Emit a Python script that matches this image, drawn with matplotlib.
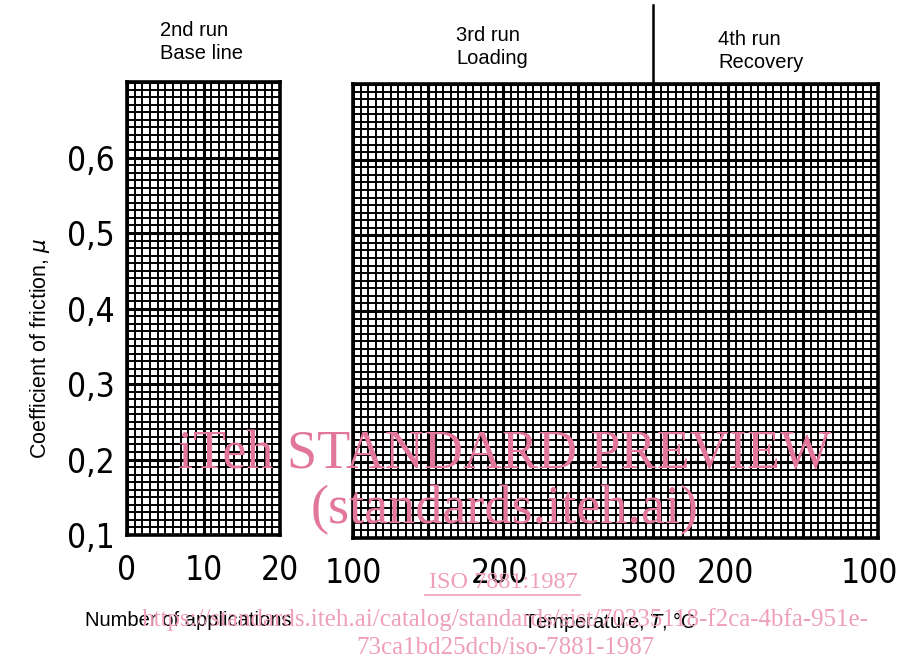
import matplotlib
matplotlib.use("Agg")
import matplotlib.pyplot as plt
from matplotlib import font_manager
import matplotlib.transforms as mtransforms
import numpy as np

# Chart values
mu_ticks = [0.1, 0.2, 0.3, 0.4, 0.5, 0.6]
mu_range = (0.1, 0.7)
app_ticks = [0, 10, 20]
app_range = (0, 20)
temp_divs = 70                      # grid divisions across the temperature panel
temp_tick_divs = [0, 20, 40, 50, 70]
temp_tick_labels = ["100", "200", "300", "200", "100"]
loading_end_div = 40                # loading / recovery boundary
run_titles = ["2nd run\nBase line", "3rd run\nLoading", "4th run\nRecovery"]

# pick a narrow face for the big tick numbers if one is installed
narrow = None
for f in font_manager.fontManager.ttflist:
    if ("Narrow" in f.name or "Condensed" in f.name or f.stretch in ("condensed", "semi-condensed")) \
            and f.style == "normal" and f.weight in (400, "normal", "regular"):
        narrow = f
        break
if narrow is not None:
    NUM = dict(family=[narrow.name, "DejaVu Sans"], stretch=narrow.stretch)
    NUM_SIZE = 24
else:
    NUM = dict(family=["Roboto", "DejaVu Sans"])
    NUM_SIZE = 21

SANS = ["Liberation Sans", "DejaVu Sans"]
SERIF = ["Liberation Serif", "DejaVu Serif"]
PINK = "#e2769b"
PINK_LIGHT = "#ef9fb8"

W, H = 899, 669
fig = plt.figure(figsize=(W / 100, H / 100), dpi=100)


def px_axes(x0, y0, x1, y1):
    return fig.add_axes([x0 / W, 1 - y1 / H, (x1 - x0) / W, (y1 - y0) / H])


def graph_paper(ax, xmin, xmax, xmajor, ymin, ymax):
    ax.set_xlim(xmin, xmax)
    ax.set_ylim(ymin, ymax)
    for x in np.arange(xmin, xmax + 1e-9, 1):
        major = abs((x - xmin) % xmajor) < 1e-9
        ax.axvline(x, color="black", lw=2.2 if major else 1.4, zorder=1)
    for i, y in enumerate(np.arange(ymin, ymax + 1e-9, 0.01)):
        ax.axhline(y, color="black", lw=2.2 if i % 10 == 0 else 1.4, zorder=1)
    for s in ax.spines.values():
        s.set_linewidth(2.6)
    ax.tick_params(length=0, pad=14)


# left panel: number of applications
ax1 = px_axes(127, 82, 280, 535)
graph_paper(ax1, app_range[0], app_range[1], 10, *mu_range)
ax1.set_xticks(app_ticks)
ax1.set_xticklabels([str(v) for v in app_ticks], fontsize=NUM_SIZE, **NUM)
ax1.set_yticks(mu_ticks)
ax1.set_yticklabels([f"{v:.1f}".replace(".", ",") for v in mu_ticks], fontsize=NUM_SIZE, **NUM)
ax1.tick_params(axis="y", pad=9)

# right panel: temperature
ax2 = px_axes(353, 84, 878, 538)
graph_paper(ax2, 0, temp_divs, 10, *mu_range)
ax2.set_xticks(temp_tick_divs)
ax2.set_xticklabels(temp_tick_labels, fontsize=NUM_SIZE, **NUM)
ax2.set_yticks([])
# numbers sit a little left of their grid line in the original
shifts = [0, -4, -5, -3, -9]
for lab, dx in zip(ax2.get_xticklabels(), shifts):
    lab.set_transform(lab.get_transform() +
                      mtransforms.ScaledTranslation(dx / 100, 0, fig.dpi_scale_trans))

# divider between loading and recovery
div_x = 353 + loading_end_div / temp_divs * 525
fig.add_artist(plt.Line2D([div_x / W, div_x / W], [1 - 5 / H, 1 - 86 / H],
                          color="black", lw=1.8))

# run titles
for (x, y), t in zip([(160, 42), (456, 47), (718, 51)], run_titles):
    fig.text(x / W, 1 - y / H, t, family=SANS, fontsize=14.5, ha="left", va="center",
             linespacing=1.3)

fig.text(40 / W, 1 - 348 / H, "Coefficient of friction, $\\mu$", rotation=90,
         family=SANS, fontsize=15.5, ha="center", va="center")
fig.text(85 / W, 1 - 620 / H, "Number of applications", family=SANS, fontsize=14.5,
         ha="left", va="center")
fig.text(523 / W, 1 - 622 / H, "Temperature, $T$, °C", family=SANS, fontsize=14.5,
         ha="left", va="center")

# watermark
fig.text(505 / W, 1 - 455 / H, "iTeh STANDARD PREVIEW", family=SERIF, fontsize=39,
         color=PINK, ha="center", va="center", zorder=10)
fig.text(505 / W, 1 - 510 / H, "(standards.iteh.ai)", family=SERIF, fontsize=39,
         color=PINK, ha="center", va="center", zorder=10)
fig.text(503 / W, 1 - 582 / H, "ISO 7881:1987", family=SERIF, fontsize=17.5,
         color=PINK_LIGHT, ha="center", va="center", zorder=10)
fig.add_artist(plt.Line2D([425 / W, 580 / W], [1 - 595 / H, 1 - 595 / H],
                          color=PINK_LIGHT, lw=1.2))
fig.text(505 / W, 1 - 620 / H,
         "https://standards.iteh.ai/catalog/standards/sist/70335118-f2ca-4bfa-951e-",
         family=SERIF, fontsize=18, color=PINK_LIGHT, ha="center", va="center", zorder=10)
fig.text(505 / W, 1 - 648 / H, "73ca1bd25dcb/iso-7881-1987", family=SERIF,
         fontsize=18, color=PINK_LIGHT, ha="center", va="center", zorder=10)

fig.savefig("out.png", dpi=100)
